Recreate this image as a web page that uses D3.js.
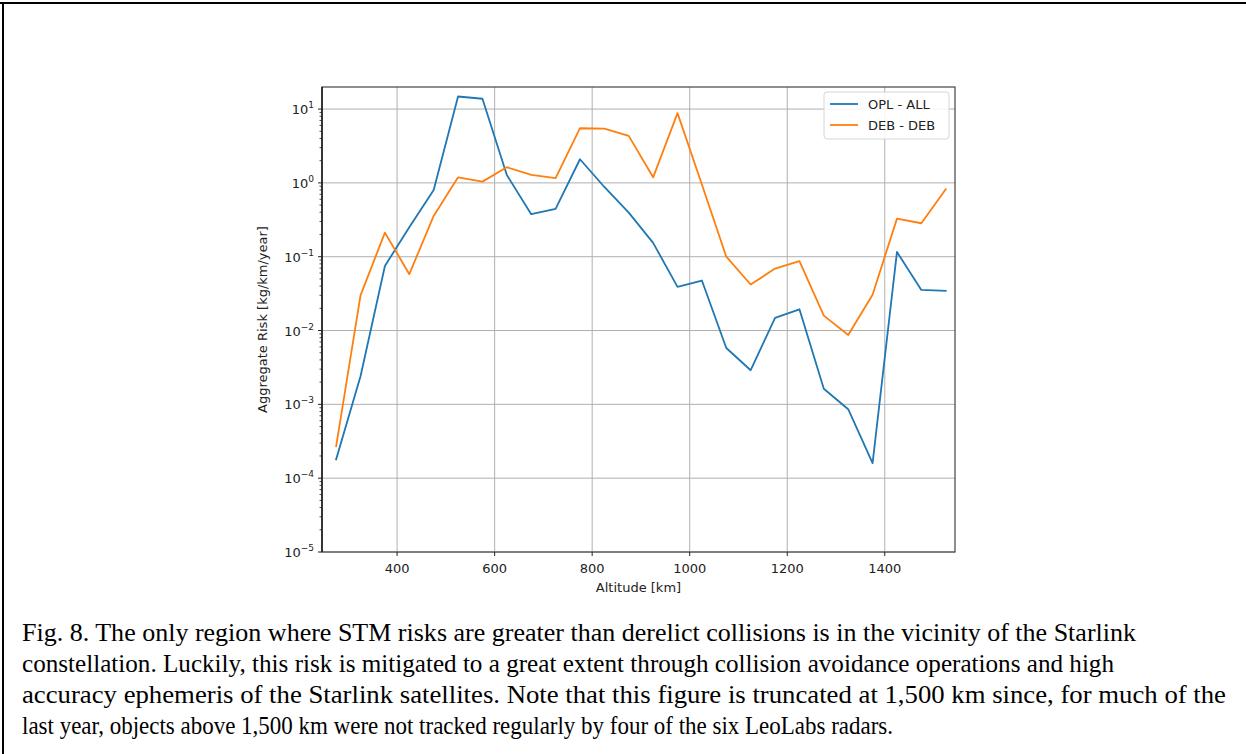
<!DOCTYPE html>
<html>
<head>
<meta charset="utf-8">
<script src="https://cdn.jsdelivr.net/npm/d3@7"></script>
<style>
  html, body { margin: 0; padding: 0; background: #fff; }
  svg { display: block; }
</style>
</head>
<body>
<svg id="fig" width="1246" height="754"></svg>
<script>
// Altitude bins (km), bin centres every 50 km
const altitudes = [275, 325, 375, 425, 475, 525, 575, 625, 675, 725, 775, 825, 875,
                   925, 975, 1025, 1075, 1125, 1175, 1225, 1275, 1325, 1375, 1425, 1475, 1525];

// Aggregate risk, kg/km/year
const oplAll = [1.8e-4, 2.4e-3, 0.075, 0.25, 0.80, 14.8, 13.8, 1.28, 0.377, 0.444, 2.09, 0.88, 0.396,
                0.154, 0.039, 0.0476, 0.0058, 0.0029, 0.0148, 0.0194, 0.00163, 8.6e-4, 1.6e-4, 0.116, 0.0355, 0.0345];
const debDeb = [2.7e-4, 0.030, 0.212, 0.058, 0.357, 1.19, 1.04, 1.63, 1.28, 1.16, 5.5, 5.44, 4.33,
                1.19, 8.8, 0.95, 0.10, 0.042, 0.069, 0.087, 0.0159, 0.0087, 0.0306, 0.328, 0.284, 0.82];

const seriesNames = ["OPL - ALL", "DEB - DEB"];
const seriesColors = ["#1f77b4", "#ff7f0e"];

const xTicks = [400, 600, 800, 1000, 1200, 1400];
const yExponents = [1, 0, -1, -2, -3, -4, -5];

const captionLines = [
  "Fig. 8. The only region where STM risks are greater than derelict collisions is in the vicinity of the Starlink",
  "constellation. Luckily, this risk is mitigated to a great extent through collision avoidance operations and high",
  "accuracy ephemeris of the Starlink satellites. Note that this figure is truncated at 1,500 km since, for much of the",
  "last year, objects above 1,500 km were not tracked regularly by four of the six LeoLabs radars."
];
// Set width of each caption line
const captionWidths = [1114, 1092, 1204, 871];

const svg = d3.select("#fig");
const plot = { left: 322, right: 955, top: 87, bottom: 552 };
const font = "'DejaVu Sans', sans-serif";
const fs = 13;

// Frame around the figure block
svg.append("line").attr("x1", 0).attr("x2", 1246).attr("y1", 3).attr("y2", 3)
  .attr("stroke", "#000").attr("stroke-width", 2);
svg.append("line").attr("x1", 3).attr("x2", 3).attr("y1", 2).attr("y2", 754)
  .attr("stroke", "#000").attr("stroke-width", 2);

const x = d3.scaleLinear().domain([246, 1544]).range([plot.left, plot.right]);
const y = d3.scaleLog().domain([1e-5, 19.9]).range([plot.bottom, plot.top]);

const g = svg.append("g");

// Grid
g.selectAll(".xgrid").data(xTicks).join("line")
  .attr("x1", d => x(d)).attr("x2", d => x(d))
  .attr("y1", plot.top).attr("y2", plot.bottom)
  .attr("stroke", "#b0b0b0").attr("stroke-width", 1);
g.selectAll(".ygrid").data(yExponents).join("line")
  .attr("x1", plot.left).attr("x2", plot.right)
  .attr("y1", d => y(Math.pow(10, d))).attr("y2", d => y(Math.pow(10, d)))
  .attr("stroke", "#b0b0b0").attr("stroke-width", 1);

// Series lines
const line = d3.line().x((d, i) => x(altitudes[i])).y(d => y(d));
[oplAll, debDeb].forEach((vals, k) => {
  g.append("path").datum(vals)
    .attr("d", line)
    .attr("fill", "none")
    .attr("stroke", seriesColors[k])
    .attr("stroke-width", 1.8)
    .attr("stroke-linejoin", "round")
    .attr("stroke-linecap", "square");
});

// Spines
g.append("rect").attr("x", plot.left).attr("y", plot.top)
  .attr("width", plot.right - plot.left).attr("height", plot.bottom - plot.top)
  .attr("fill", "none").attr("stroke", "#444").attr("stroke-width", 1.2);
g.append("line").attr("x1", plot.left).attr("x2", plot.left)
  .attr("y1", plot.top).attr("y2", plot.bottom)
  .attr("stroke", "#111").attr("stroke-width", 1.4);

// X axis ticks and labels
g.selectAll(".xtick").data(xTicks).join("line")
  .attr("x1", d => x(d)).attr("x2", d => x(d))
  .attr("y1", plot.bottom).attr("y2", plot.bottom + 4)
  .attr("stroke", "#222").attr("stroke-width", 1);
g.selectAll(".xlab").data(xTicks).join("text")
  .attr("x", d => x(d)).attr("y", plot.bottom + 21)
  .attr("text-anchor", "middle")
  .attr("font-family", font).attr("font-size", fs).attr("fill", "#222")
  .text(d => d);

// Y axis: major and minor ticks
const minor = [];
for (let e = -5; e < 2; e++) {
  for (let m = 2; m <= 9; m++) {
    const v = m * Math.pow(10, e);
    if (v <= y.domain()[1]) minor.push(v);
  }
}
g.selectAll(".ymin").data(minor).join("line")
  .attr("x1", plot.left - 2.5).attr("x2", plot.left)
  .attr("y1", d => y(d)).attr("y2", d => y(d))
  .attr("stroke", "#222").attr("stroke-width", 0.8);
g.selectAll(".ymaj").data(yExponents).join("line")
  .attr("x1", plot.left - 4).attr("x2", plot.left)
  .attr("y1", d => y(Math.pow(10, d))).attr("y2", d => y(Math.pow(10, d)))
  .attr("stroke", "#222").attr("stroke-width", 1);
const ylab = g.selectAll(".ylab").data(yExponents).join("text")
  .attr("x", plot.left - 8).attr("y", d => y(Math.pow(10, d)) + 5)
  .attr("text-anchor", "end")
  .attr("font-family", font).attr("font-size", fs).attr("fill", "#222");
ylab.append("tspan").text("10");
ylab.append("tspan").attr("dy", -6).attr("font-size", 9)
  .text(d => (d < 0 ? "\u2212" + (-d) : String(d)));

// Axis titles
svg.append("text")
  .attr("x", (plot.left + plot.right) / 2).attr("y", plot.bottom + 40)
  .attr("text-anchor", "middle")
  .attr("font-family", font).attr("font-size", fs).attr("fill", "#222")
  .text("Altitude [km]");
svg.append("text")
  .attr("transform", `translate(267, ${(plot.top + plot.bottom) / 2}) rotate(-90)`)
  .attr("text-anchor", "middle")
  .attr("font-family", font).attr("font-size", fs).attr("fill", "#222")
  .text("Aggregate Risk [kg/km/year]");

// Legend
const leg = svg.append("g").attr("transform", "translate(824, 92)");
leg.append("rect").attr("width", 125).attr("height", 47).attr("rx", 3)
  .attr("fill", "#fff").attr("fill-opacity", 0.85)
  .attr("stroke", "#d6d6d6").attr("stroke-width", 1);
seriesNames.forEach((name, k) => {
  const yy = 12 + k * 21;
  leg.append("line").attr("x1", 6).attr("x2", 34).attr("y1", yy).attr("y2", yy)
    .attr("stroke", seriesColors[k]).attr("stroke-width", 1.8);
  leg.append("text").attr("x", 44).attr("y", yy + 4.5)
    .attr("font-family", font).attr("font-size", fs).attr("fill", "#222")
    .text(name);
});

// Caption
svg.append("g").selectAll("text").data(captionLines).join("text")
  .attr("x", 22).attr("y", (d, i) => 641 + i * 31)
  .attr("font-family", "'Liberation Serif', 'Times New Roman', serif")
  .attr("font-size", 24.5).attr("fill", "#000")
  .attr("textLength", (d, i) => captionWidths[i])
  .attr("lengthAdjust", "spacingAndGlyphs")
  .text(d => d);
</script>
</body>
</html>
